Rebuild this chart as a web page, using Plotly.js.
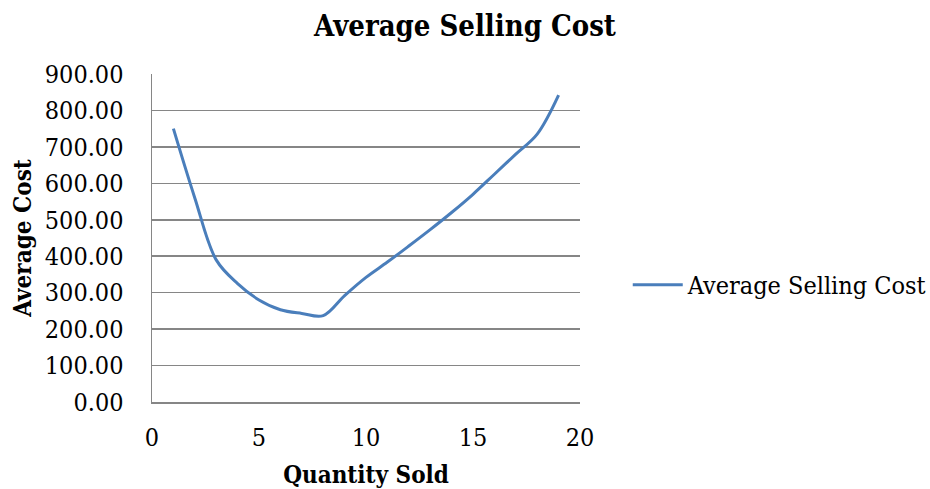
<!DOCTYPE html>
<html>
<head>
<meta charset="utf-8">
<script src="https://cdn.plot.ly/plotly-3.0.1.min.js"></script>
<style>html,body{margin:0;padding:0;background:#fff;}#chart{width:930px;height:489px;}</style>
</head>
<body>
<div id="chart"></div>
<script>
const quantity = [1, 2, 3, 4, 5, 6, 7, 8, 9, 10, 11, 12, 13, 14, 15, 16, 17, 18, 19];
const averageCost = [750, 560, 390, 325, 280, 253, 243, 237, 292, 342, 384, 428, 473, 520, 570, 625, 680, 735, 842];
const seriesName = 'Average Selling Cost';
const yTicks = [0, 100, 200, 300, 400, 500, 600, 700, 800, 900];
const xTicks = [0, 5, 10, 15, 20];

const FONT = '"DejaVu Serif Condensed", "Liberation Serif", serif';

const trace = {
  x: quantity,
  y: averageCost,
  type: 'scatter',
  mode: 'lines',
  name: seriesName,
  line: {color: '#4a7ebb', width: 3, shape: 'spline', smoothing: 1}
};

const layout = {
  width: 930, height: 489,
  margin: {l: 152, r: 350, t: 74, b: 87, autoexpand: false},
  paper_bgcolor: '#fff', plot_bgcolor: '#fff',
  font: {family: FONT, size: 24, color: '#000'},
  title: {text: '<b>Average Selling Cost</b>', x: 0.5, xref: 'container', xanchor: 'center', y: 0.948, yanchor: 'middle', font: {family: FONT, size: 29, color: '#000'}},
  xaxis: {
    range: [0, 20], tickvals: xTicks, ticktext: xTicks.map(String),
    showgrid: false, zeroline: false, showline: true, linecolor: '#868686', linewidth: 1.5,
    ticks: 'outside', ticklen: 12, tickcolor: 'rgba(0,0,0,0)',
    tickfont: {family: FONT, size: 25},
    title: {text: '<b>Quantity Sold</b>', font: {family: FONT, size: 24}, standoff: 16}
  },
  yaxis: {
    range: [0, 900], tickvals: yTicks, ticktext: yTicks.map(v => v.toFixed(2)),
    showgrid: true, gridcolor: '#868686', gridwidth: 1.5,
    zeroline: false, showline: true, linecolor: '#868686', linewidth: 1.5,
    ticks: 'outside', ticklen: 22, tickcolor: 'rgba(0,0,0,0)',
    tickfont: {family: FONT, size: 25},
    title: {text: '<b>Average Cost</b>', font: {family: FONT, size: 24}, standoff: 6}
  },
  showlegend: true,
  legend: {xref: 'container', x: 0.675, xanchor: 'left', yref: 'paper', y: 0.357, yanchor: 'middle', itemwidth: 50, font: {family: FONT, size: 25}, bgcolor: 'rgba(0,0,0,0)'}
};

Plotly.newPlot('chart', [trace], layout, {displayModeBar: false, staticPlot: true});
</script>
</body>
</html>
